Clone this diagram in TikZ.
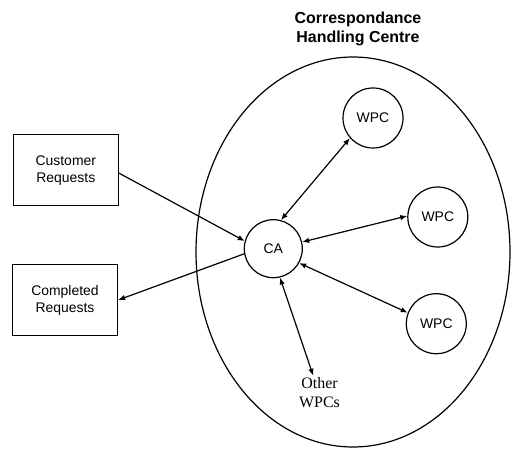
\documentclass[tikz,border=0pt]{standalone}
\usepackage{fontspec}
\setmainfont{Liberation Sans}
\newfontfamily\serifface{Liberation Serif}
\usetikzlibrary{arrows.meta}
\begin{document}
\begin{tikzpicture}[x=1bp,y=-1bp,
  link/.style={line width=1.2bp,black},
  onetip/.style={-{Latex[length=7bp,width=5.5bp]}},
  twotips/.style={{Latex[length=7bp,width=5.5bp]}-{Latex[length=7bp,width=5.5bp]}},
  agent/.style={circle,draw,line width=1.2bp,inner sep=0pt,
    font=\fontsize{14}{17}\selectfont},
  reqbox/.style={rectangle,draw,line width=1.2bp,minimum width=105bp,
    minimum height=71bp,align=center,inner sep=0pt,
    font=\fontsize{14}{17}\selectfont},
  heading/.style={align=center,inner sep=0pt,
    font=\fontsize{16}{19}\selectfont\bfseries},
  plainlabel/.style={align=center,inner sep=2bp,
    font=\fontsize{16}{19}\selectfont\serifface}]
\useasboundingbox (0,0) rectangle (511,452);

% the handling centre and its heading
\draw[line width=1.2bp] (353,252) ellipse [x radius=157, y radius=195];
\node[heading] (title) at (358,28.5) {Correspondance\\Handling Centre};

% request boxes
\node[reqbox] (cust) at (65.8,170.3) {Customer\\Requests};
\node[reqbox] (comp) at (65,300) {Completed\\Requests};

% agents
\node[agent,minimum size=58bp] (ca) at (273.3,248.7) {CA};
\node[agent,minimum size=60bp] (w1) at (373,118) {WPC};
\node[agent,minimum size=60bp] (w2) at (437.8,217) {WPC};
\node[agent,minimum size=60bp] (w3) at (436.3,323.7) {WPC};
\node[plainlabel] (other) at (319.5,393) {Other\\WPCs};

% flows
\draw[link,onetip] (cust.-3) -- (ca.165);
\draw[link,onetip] (ca.190) -- (comp.east);
\draw[link,twotips] (ca.75) -- (w1.221);
\draw[link,twotips] (ca.13) -- (w2.178);
\draw[link,twotips] (ca.331) -- (w3.159);
\draw[link,twotips] (ca.283) -- (other.110);
\end{tikzpicture}
\end{document}
